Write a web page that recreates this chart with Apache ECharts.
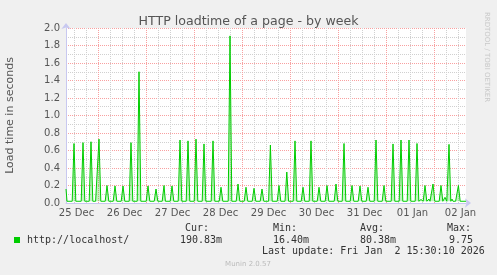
<!DOCTYPE html>
<html><head><meta charset="utf-8">
<script src="https://cdn.jsdelivr.net/npm/echarts@6/dist/echarts.min.js"></script>
<style>html,body{margin:0;padding:0;background:#f0f0f0;}#c{width:497px;height:275px;}</style>
</head><body><div id="c"></div>
<script>
// Time axis: hours since the left edge of the plot (graph spans 200 h, 30-min steps)
const dayLabels = ['25 Dec','26 Dec','27 Dec','28 Dec','29 Dec','30 Dec','31 Dec','01 Jan','02 Jan'];
const dayLabelHours = [5.25, 29.25, 53.25, 77.25, 101.25, 125.25, 149.25, 173.25, 197.25];
const yTickLabels = ['0.0','0.2','0.4','0.6','0.8','1.0','1.2','1.4','1.6','1.8','2.0'];
// Load-time spikes (hour, seconds)
const spikeHours = [4.0, 8.5, 12.5, 16.5, 20.5, 24.5, 28.5, 32.5, 36.5, 41.0, 45.0, 49.0, 53.0, 57.0, 61.0, 65.0, 69.0, 73.5, 77.5, 82.0, 86.0, 90.0,
  94.0, 98.0, 102.2, 106.5, 110.4, 114.5, 118.5, 122.5, 126.5, 130.5, 135.0, 139.0, 143.0, 147.0, 151.0, 155.0, 159.0, 163.5, 167.5, 171.5, 175.5,
  179.5, 183.5, 187.5, 189.5, 191.5, 196.2];
const spikePeaks = [0.68, 0.69, 0.70, 0.73, 0.20, 0.195, 0.195, 0.69, 1.50, 0.195, 0.16, 0.20, 0.195, 0.72, 0.71, 0.73, 0.675, 0.71, 0.18, 1.91, 0.217, 0.18,
  0.168, 0.16, 0.663, 0.20, 0.354, 0.71, 0.18, 0.71, 0.18, 0.20, 0.217, 0.68, 0.20, 0.195, 0.18, 0.72, 0.20, 0.675, 0.72, 0.72, 0.68,
  0.20, 0.217, 0.20, 0.065, 0.67, 0.20];
// small bumps near the baseline
const bumpHours = [0.0, 14.3, 50.2, 177.5, 181.5, 193.0, 194.3];
const bumpValues = [0.16, 0.035, 0.035, 0.04, 0.045, 0.045, 0.04];
const baseValue = 0.02;
const xMin = 0, xMax = 200;

const pts = [];
spikeHours.forEach((h, i) => pts.push([h - 0.9, baseValue], [h, spikePeaks[i]], [h + 0.9, baseValue]));
bumpHours.forEach((h, i) => pts.push([h - 0.5, baseValue], [h, bumpValues[i]], [h + 0.5, baseValue]));
pts.push([xMin, bumpValues[0]], [xMax, baseValue]);
pts.sort((a, b) => a[0] - b[0]);
const data = pts.filter(p => p[0] >= xMin && p[0] <= xMax);

// vertical grid positions (every 6 h, major every 24 h); +0.25 h = half pixel for crisp 1px lines
const minorV = [], majorV = [];
for (let h = 4; h < xMax; h += 6) { if ((h - 16) % 24 === 0) majorV.push(h); else minorV.push(h); }

const chart = echarts.init(document.getElementById('c'), null, {renderer: 'canvas'});
const axisCol = '#c8c8f0';
const txt = '#555';
const font = 'DejaVu Sans';
const minorCol = '#d0d0d0', majorCol = '#f8a0a0';
const vLine = (h, col) => ({xAxis: h + 0.25, lineStyle: {color: col, type: [1, 1], width: 1}});
chart.setOption({
  backgroundColor: '#f0f0f0',
  animation: false,
  title: {text: 'HTTP loadtime of a page - by week', left: 'center', top: 10,
    textStyle: {fontFamily: font, fontSize: 12.6, fontWeight: 'normal', color: txt}},
  grid: {left: 66, top: 28, width: 400, height: 175, show: true, backgroundColor: '#ffffff', borderWidth: 0,
    containLabel: false, outerBoundsMode: 'none'},
  xAxis: {
    type: 'value', min: xMin, max: xMax, position: 'bottom',
    axisLine: {show: true, lineStyle: {color: axisCol, width: 1}, symbol: ['none', 'arrow'], symbolSize: [7, 6], symbolOffset: [0, 5]},
    axisTick: {show: false},
    splitLine: {show: false},
    axisLabel: {customValues: dayLabelHours, margin: 5, color: txt, fontFamily: font, fontSize: 10,
      formatter: v => dayLabels[dayLabelHours.indexOf(v)]}
  },
  yAxis: {
    type: 'value', min: 0, max: 2, interval: 0.1,
    name: 'Load time in seconds', nameLocation: 'middle', nameGap: 50, nameRotate: 90,
    nameTextStyle: {color: txt, fontFamily: font, fontSize: 11},
    axisLine: {show: true, lineStyle: {color: axisCol, width: 1}, symbol: ['none', 'arrow'], symbolSize: [7, 6], symbolOffset: [0, 5]},
    axisTick: {show: false},
    splitLine: {show: true, lineStyle: {color: [majorCol, minorCol], type: [1, 1]}},
    axisLabel: {margin: 6, color: txt, fontFamily: font, fontSize: 10,
      formatter: v => { const k = Math.round(v * 10); return k % 2 ? '' : yTickLabels[k / 2]; }}
  },
  series: [{
    type: 'line', data: [], z: 1, silent: true,
    markLine: {silent: true, symbol: ['none', 'none'], animation: false, label: {show: false},
      data: minorV.map(h => vLine(h, minorCol))}
  }, {
    type: 'line', data: [], z: 2, silent: true,
    markLine: {silent: true, symbol: ['none', 'none'], animation: false, label: {show: false},
      data: majorV.map(h => vLine(h, majorCol))}
  }, {
    type: 'line', data: data, showSymbol: false, symbol: 'none', z: 5,
    lineStyle: {color: '#00cc00', width: 1}, clip: true,
    areaStyle: {origin: baseValue, color: 'rgba(0,204,0,0.35)'}
  }],
  graphic: [
    {type: 'text', x: 487, y: 57, rotation: -Math.PI / 2,
      style: {text: 'RRDTOOL / TOBI OETIKER', fill: '#c8c8c8', font: '7px "DejaVu Sans"', align: 'center', verticalAlign: 'middle'}},
    {type: 'rect', shape: {x: 14, y: 237, width: 6, height: 6}, style: {fill: '#00cc00'}},
    ...[['Cur:', 185, 228], ['Min:', 273, 228], ['Avg:', 360, 228], ['Max:', 447, 228],
        ['http://localhost/', 27, 240], ['190.83m', 180, 240], ['16.40m', 273, 240], ['80.38m', 360, 240], ['9.75', 449, 240],
        ['Last update: Fri Jan\u00a0\u00a02 15:30:10 2026', 262, 251]].map(a => ({
      type: 'text', x: a[1], y: a[2],
      style: {text: a[0], fill: '#333', font: '10px "DejaVu Sans Mono"', align: 'left', verticalAlign: 'middle'}})),
    {type: 'text', x: 248, y: 264, style: {text: 'Munin 2.0.57', fill: '#bbb', font: '7px "DejaVu Sans"', align: 'center', verticalAlign: 'middle'}}
  ]
});
</script></body></html>
